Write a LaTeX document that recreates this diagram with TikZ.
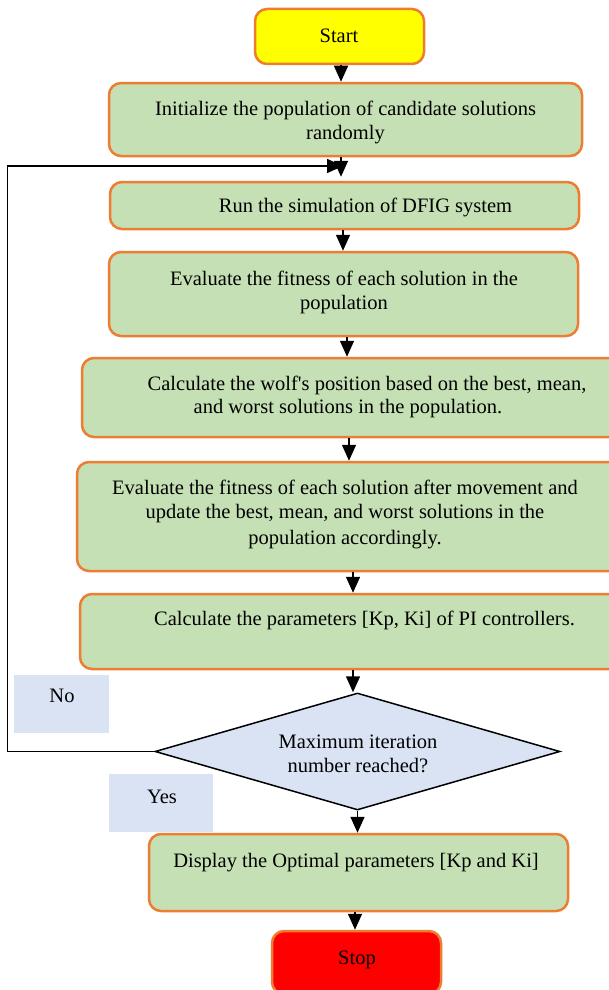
\documentclass[tikz,border=0pt]{standalone}
\usepackage{fontspec}
\setmainfont{Liberation Serif}
\usetikzlibrary{shapes.geometric,arrows.meta}
\definecolor{borange}{HTML}{ED7D31}
\definecolor{bgreen}{HTML}{C5E0B4}
\definecolor{bblue}{HTML}{DAE3F3}
\definecolor{byellow}{HTML}{FFFF00}
\definecolor{bred}{HTML}{FF0000}
\begin{document}
\begin{tikzpicture}[x=1pt,y=-1pt,
  proc/.style={draw=borange, line width=2.5pt, rounded corners=12pt, fill=bgreen, inner sep=0pt},
  txt/.style={font=\fontsize{20.5}{24}\selectfont, align=center, inner sep=0pt},
  arr/.style={line width=1.5pt, -{Triangle[width=14pt,length=16pt]}},
  lbl/.style={fill=bblue, inner sep=0pt}]
\clip (0,0) rectangle (609,990);
\fill[white] (0,0) rectangle (609,990);

% boxes
\node[proc, fill=byellow, minimum width=169pt, minimum height=55pt] (start) at (339.5,36.5) {};
\node[proc, minimum width=473pt, minimum height=73pt] (init) at (345.5,119.5) {};
\node[proc, minimum width=469pt, minimum height=47pt] (run) at (344.5,205.5) {};
\node[proc, minimum width=469pt, minimum height=84pt] (eval) at (343.5,294) {};
\node[proc, minimum width=543pt, minimum height=79pt] (calc) at (353.5,397.5) {};
\node[proc, minimum width=548pt, minimum height=109pt] (move) at (351,516.5) {};
\node[proc, minimum width=545pt, minimum height=75pt] (param) at (352.5,631.5) {};
\node[lbl, minimum width=95pt, minimum height=58pt] (nobox) at (61.5,704) {};
\node[lbl, minimum width=104pt, minimum height=58pt] (yesbox) at (161,803) {};
\node[draw=black, line width=1.5pt, fill=bblue, diamond, aspect=3.46, inner sep=0pt,
      minimum width=405pt, minimum height=117pt] (dia) at (357.5,751.5) {};
\node[proc, minimum width=419pt, minimum height=77pt] (disp) at (358.5,872.5) {};
\node[proc, fill=bred, minimum width=169pt, minimum height=63pt] (stop) at (356.5,962.5) {};

% texts
\node[txt] (tstart) at (339,36) {Start};
\node[txt] (tinit) at (345.5,122) {Initialize the population of candidate solutions\\randomly};
\node[txt] (trun) at (365.5,207) {Run the simulation of DFIG system};
\node[txt] (teval) at (344,292) {Evaluate the fitness of each solution in the\\population};
\node[txt] (tcalcA) at (367,385) {Calculate the wolf\textquotesingle s position based on the best, mean,};
\node[txt] (tcalcB) at (348,409) {and worst solutions in the population.};
\node[txt] (tmove) at (345,514.5) {Evaluate the fitness of each solution after movement and\\update the best, mean, and worst solutions in the\\[2pt]population accordingly.};
\node[txt] (tparam) at (364.5,620.5) {Calculate the parameters [Kp, Ki] of PI controllers.};
\node[txt] (tno) at (62,696) {No};
\node[txt] (tdia) at (358,754) {Maximum iteration\\number reached?};
\node[txt] (tyes) at (162,796.5) {Yes};
\node[txt] (tdisp) at (356,863) {Display the Optimal parameters [Kp and Ki]};
\node[txt] (tstop) at (357,960) {Stop};

% connectors
\coordinate (loopend) at (343,166);
\draw[arr] ([xshift=1.5pt]start.south) -- ([xshift=1.5pt]start.south |- init.north);
\draw[arr, shorten >=4pt] ([xshift=-4.5pt]init.south) -- ([xshift=-4.5pt]init.south |- run.north);
\draw[arr] (dia.west) -- ++(-147,0) |- (loopend);
\draw[arr] ([xshift=-1.5pt]run.south) -- ([xshift=-1.5pt]run.south |- eval.north);
\draw[arr] ([xshift=3.5pt]eval.south) -- ([xshift=3.5pt]eval.south |- calc.north);
\draw[arr] ([xshift=-4.5pt]calc.south) -- ([xshift=-4.5pt]calc.south |- move.north);
\draw[arr] ([xshift=2pt]move.south) -- ([xshift=2pt]move.south |- param.north);
\draw[arr] ([xshift=0.5pt]param.south) -- ([xshift=0.5pt]param.south |- dia.north);
\draw[arr] (dia.south) -- (dia.south |- disp.north);
\draw[arr] ([xshift=-3.5pt]disp.south) -- ([xshift=-3.5pt]disp.south |- stop.north);
\end{tikzpicture}
\end{document}
